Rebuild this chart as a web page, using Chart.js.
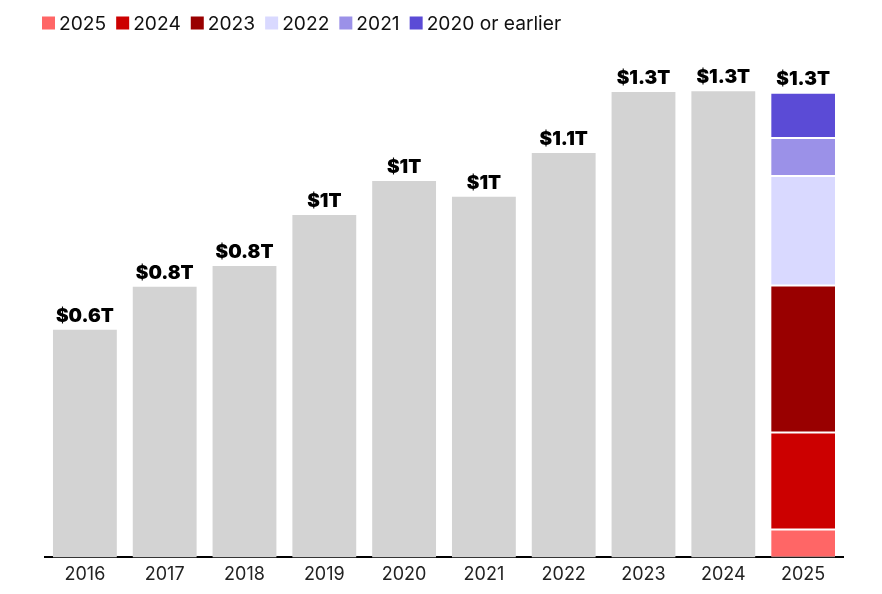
<!DOCTYPE html>
<html>
<head>
<meta charset="utf-8">
<script src="https://cdn.jsdelivr.net/npm/chart.js@4"></script>
<style>
html,body{margin:0;padding:0;background:#fff;}
#wrap{width:882px;height:594px;position:relative;}
</style>
</head>
<body>
<div id="wrap"><canvas id="c" width="882" height="594"></canvas></div>
<script>
const categories = ['2016','2017','2018','2019','2020','2021','2022','2023','2024','2025'];
// Annual totals (trillions USD) for the grey bars, 2016–2024
const annualTotals = [0.635, 0.755, 0.813, 0.955, 1.05, 1.006, 1.128, 1.298, 1.30, null];
// 2025 breakdown by vintage (trillions USD)
const vintageNames = ['2025','2024','2023','2022','2021','2020 or earlier'];
const vintageValues = [0.078, 0.27, 0.41, 0.306, 0.106, 0.126];
const totalLabels = ['$0.6T','$0.8T','$0.8T','$1T','$1T','$1T','$1.1T','$1.3T','$1.3T','$1.3T'];

const vintageColors = ['#ff6666','#cc0000','#990000','#d9d9ff','#9b91e8','#5b4bd6'];
const FONT = 'Inter, "Noto Sans", sans-serif';

const datasets = [{
  label: 'total',
  data: annualTotals,
  backgroundColor: '#d3d3d3',
  borderWidth: 0,
  stack: 's'
}];
vintageNames.forEach((n, i) => {
  datasets.push({
    label: n,
    data: categories.map((c, j) => j === categories.length - 1 ? vintageValues[i] : null),
    backgroundColor: vintageColors[i],
    borderColor: '#ffffff',
    borderWidth: {top: 1, bottom: 1, left: 0, right: 0},
    borderSkipped: false,
    stack: 's'
  });
});

const totalLabelPlugin = {
  id: 'totalLabels',
  afterDatasetsDraw(chart) {
    const ctx = chart.ctx;
    const y = chart.scales.y, x = chart.scales.x;
    ctx.save();
    ctx.font = '900 19px ' + FONT;
    ctx.fillStyle = '#000';
    ctx.textAlign = 'center';
    ctx.textBaseline = 'alphabetic';
    categories.forEach((c, i) => {
      let total = 0;
      chart.data.datasets.forEach(ds => { if (ds.data[i] != null) total += ds.data[i]; });
      const px = x.getPixelForValue(i);
      const py = y.getPixelForValue(total);
      ctx.fillText(totalLabels[i], px, py - 8);
    });
    ctx.restore();
  }
};

const legendPlugin = {
  id: 'customLegend',
  afterDraw(chart) {
    const ctx = chart.ctx;
    ctx.save();
    ctx.font = '19.2px ' + FONT;
    ctx.textBaseline = 'alphabetic';
    ctx.textAlign = 'left';
    let xPos = 42;
    const baseY = 30;
    chart.data.datasets.forEach((ds, i) => {
      if (ds.label === 'total') return;
      ctx.fillStyle = ds.backgroundColor;
      ctx.fillRect(xPos, 16.5, 13, 13);
      xPos += 17;
      ctx.fillStyle = '#111';
      ctx.fillText(ds.label, xPos, baseY);
      xPos += ctx.measureText(ds.label).width + 10;
    });
    ctx.restore();
  }
};

new Chart(document.getElementById('c'), {
  type: 'bar',
  data: { labels: categories, datasets },
  options: {
    responsive: false,
    animation: false,
    layout: { padding: { left: 45, right: 39, top: 40, bottom: 3 } },
    plugins: {
      legend: { display: false },
      tooltip: { enabled: false }
    },
    scales: {
      x: {
        stacked: true,
        grid: { display: false, drawTicks: false },
        border: { display: true, color: '#000', width: 2 },
        ticks: { color: '#222', font: { size: 18, family: FONT }, padding: 6 },
        categoryPercentage: 1,
        barPercentage: 0.8
      },
      y: {
        stacked: true,
        display: false,
        min: 0,
        max: 1.443
      }
    },
    datasets: { bar: { categoryPercentage: 1, barPercentage: 0.8 } }
  },
  plugins: [totalLabelPlugin, legendPlugin]
});
</script>
</body>
</html>
